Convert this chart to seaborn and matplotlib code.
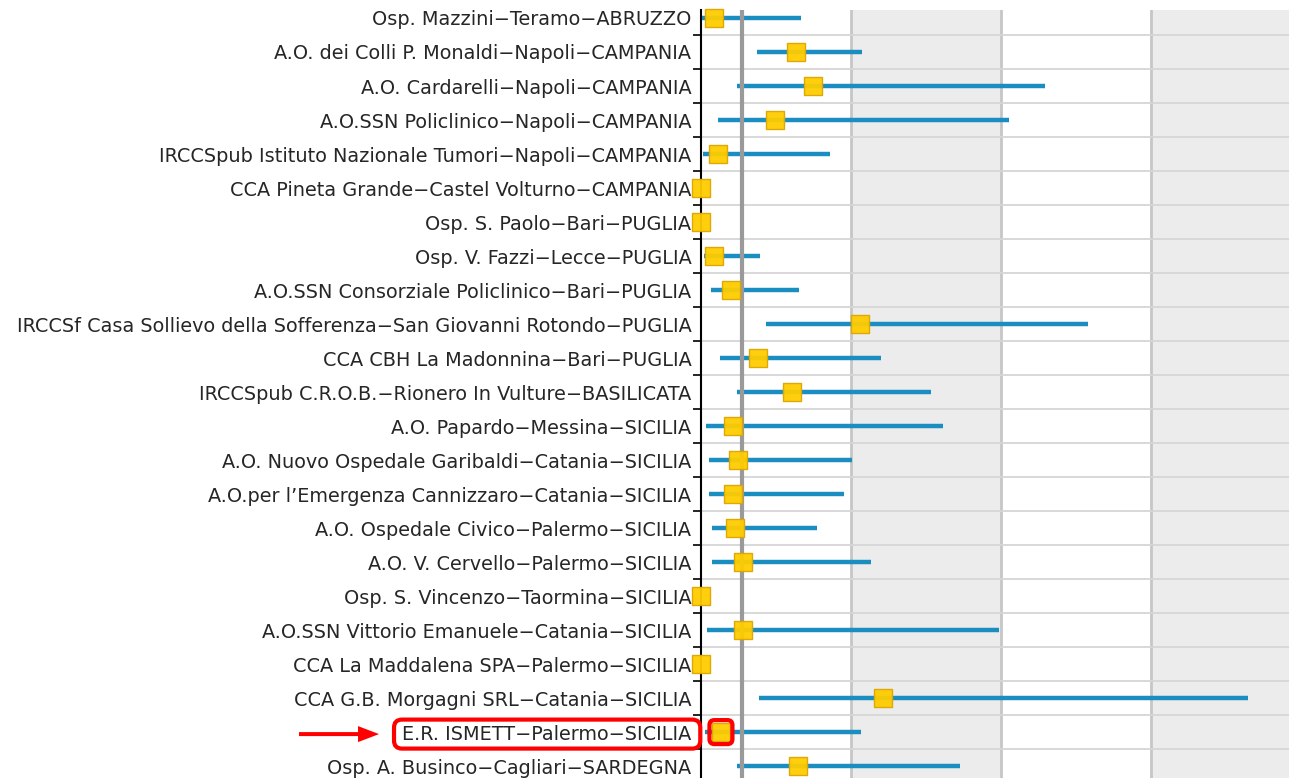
import numpy as np
import pandas as pd
import matplotlib
matplotlib.use("Agg")
import matplotlib.pyplot as plt
import seaborn as sns
from matplotlib.patches import FancyBboxPatch, FancyArrow
from matplotlib.transforms import IdentityTransform

hospitals = [
    "Osp. Mazzini−Teramo−ABRUZZO",
    "A.O. dei Colli P. Monaldi−Napoli−CAMPANIA",
    "A.O. Cardarelli−Napoli−CAMPANIA",
    "A.O.SSN Policlinico−Napoli−CAMPANIA",
    "IRCCSpub Istituto Nazionale Tumori−Napoli−CAMPANIA",
    "CCA Pineta Grande−Castel Volturno−CAMPANIA",
    "Osp. S. Paolo−Bari−PUGLIA",
    "Osp. V. Fazzi−Lecce−PUGLIA",
    "A.O.SSN Consorziale Policlinico−Bari−PUGLIA",
    "IRCCSf Casa Sollievo della Sofferenza−San Giovanni Rotondo−PUGLIA",
    "CCA CBH La Madonnina−Bari−PUGLIA",
    "IRCCSpub C.R.O.B.−Rionero In Vulture−BASILICATA",
    "A.O. Papardo−Messina−SICILIA",
    "A.O. Nuovo Ospedale Garibaldi−Catania−SICILIA",
    "A.O.per l’Emergenza Cannizzaro−Catania−SICILIA",
    "A.O. Ospedale Civico−Palermo−SICILIA",
    "A.O. V. Cervello−Palermo−SICILIA",
    "Osp. S. Vincenzo−Taormina−SICILIA",
    "A.O.SSN Vittorio Emanuele−Catania−SICILIA",
    "CCA La Maddalena SPA−Palermo−SICILIA",
    "CCA G.B. Morgagni SRL−Catania−SICILIA",
    "E.R. ISMETT−Palermo−SICILIA",
    "Osp. A. Businco−Cagliari−SARDEGNA",
]
estimate = [0.087, 0.633, 0.747, 0.493, 0.113, 0.0, 0.0, 0.087, 0.200, 1.060,
            0.380, 0.607, 0.213, 0.247, 0.213, 0.227, 0.280, 0.0, 0.280, 0.0,
            1.213, 0.133, 0.647]
ci_low = [0.005, 0.373, 0.240, 0.113, 0.010, 0.0, 0.0, 0.020, 0.067, 0.433,
          0.127, 0.240, 0.033, 0.053, 0.053, 0.073, 0.073, 0.0, 0.040, 0.0,
          0.387, 0.027, 0.240]
ci_high = [0.667, 1.073, 2.293, 2.053, 0.860, 0.0, 0.0, 0.393, 0.653, 2.580,
           1.200, 1.533, 1.613, 1.007, 0.953, 0.773, 1.133, 0.0, 1.987, 0.0,
           3.647, 1.067, 1.727]
reference_value = 0.273
grid_values = [1, 2, 3]
shaded_bands = [(1, 2), (3, 4.5)]
highlight = "E.R. ISMETT−Palermo−SICILIA"

df = pd.DataFrame({"hospital": hospitals, "est": estimate, "lo": ci_low, "hi": ci_high})
df["row"] = np.arange(len(df))

sns.set_style("white")
plt.rcParams["font.family"] = ["DejaVu Sans"]

W, H = 1289, 778
fig = plt.figure(figsize=(W / 100, H / 100), dpi=100)
ax = fig.add_axes([701 / W, 0, 1 - 701 / W, 1 - 10 / H])

for a, b in shaded_bands:
    ax.axvspan(a, b, color="#ececec", lw=0, zorder=0)
for v in grid_values:
    ax.axvline(v, color="#c6c6c6", lw=2.0, zorder=1)
for b in np.arange(-0.5, len(df) + 0.5, 1):
    ax.axhline(b, color="#d6d6d6", lw=1.3, zorder=1)

ax.hlines(df["row"], df["lo"], df["hi"], color="#1b8ec1", lw=3.2, zorder=2)
ax.axvline(reference_value, color="#9a9a9a", lw=3.0, zorder=3)

sns.scatterplot(data=df, x="est", y="row", marker="s", s=150, color="#FFCC00",
                edgecolor="#DDA600", linewidth=1.0, zorder=4, ax=ax,
                clip_on=False, legend=False, alpha=0.95)

ax.set_xlabel("")
ax.set_ylabel("")
ax.set_xticks([])
ax.set_yticks(df["row"])
ax.set_yticklabels(df["hospital"], fontsize=13.9, color="#262626")
ax.set_yticks(np.arange(-0.5, len(df) + 0.5, 1), minor=True)
ax.tick_params(axis="y", which="major", length=0, pad=7)
ax.tick_params(axis="y", which="minor", length=6, width=1.2, direction="out",
               color="black", left=True)
ax.set_xlim(0, 3.92)
ax.set_ylim(22.35, -0.235)
for s in ["top", "right", "bottom"]:
    ax.spines[s].set_visible(False)
ax.spines["left"].set_color("black")
ax.spines["left"].set_linewidth(1.5)

# highlight annotations
fig.canvas.draw()
idx = hospitals.index(highlight)
lab = [t for t in ax.get_yticklabels() if t.get_text() == highlight][0]
bb = lab.get_window_extent()
pad_l, pad_r, pad_y = 8, 9, 5
box = FancyBboxPatch((bb.x0 - pad_l, bb.y0 - pad_y), bb.width + pad_l + pad_r,
                     bb.height + 2 * pad_y,
                     boxstyle="round,pad=0,rounding_size=8",
                     fc="none", ec="#ff0000", lw=3.0, transform=IdentityTransform())
fig.add_artist(box)

cx, cy = ax.transData.transform((estimate[idx], idx))
mbox = FancyBboxPatch((cx - 11.5, cy - 12), 23, 24,
                      boxstyle="round,pad=0,rounding_size=5",
                      fc="none", ec="#ff0000", lw=3.0, transform=IdentityTransform(),
                      zorder=5)
fig.add_artist(mbox)

ycen = (bb.y0 + bb.y1) / 2
tip = bb.x0 - pad_l - 15
arrow = FancyArrow(tip - 80, ycen, 80, 0, width=4, head_width=16, head_length=21,
                   length_includes_head=True, color="#ff0000", lw=0,
                   transform=IdentityTransform())
fig.add_artist(arrow)

fig.savefig("out.png", dpi=100)
